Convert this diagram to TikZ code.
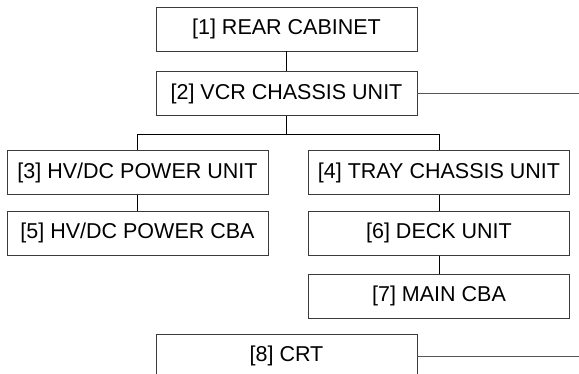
\documentclass[tikz,border=0pt]{standalone}
\usepackage{fontspec}
\setmainfont{Liberation Sans}
\usetikzlibrary{positioning}
\definecolor{boxgray}{HTML}{3A3A3A}
\definecolor{linkgray}{HTML}{555555}
\tikzset{
  partbox/.style={
    draw=boxgray,
    line width=0.9pt,
    minimum width=261pt,
    minimum height=44pt,
    inner sep=0pt,
    font=\fontsize{21.5}{24}\selectfont
  },
  linkline/.style={
    draw=black,
    line width=0.8pt
  },
  sideline/.style={
    draw=linkgray,
    line width=0.9pt
  }
}

\begin{document}
\begin{tikzpicture}[x=1pt, y=-1pt, node distance=20pt]
    \useasboundingbox (0,0) rectangle (579,374);
    \coordinate (rightedge) at (579,0);

    \node[partbox] (cabinet) at (286.5,29) {[1] REAR CABINET};
    \node[partbox, below=of cabinet] (vcr) {[2] VCR CHASSIS UNIT};

    \node[partbox] (hvunit) at (137.5,172.5) {[3] HV/DC POWER UNIT};
    \node[partbox] (tray) at (439,172.5) {[4] TRAY CHASSIS UNIT};
    \node[partbox, below=16pt of hvunit] (hvcba) {[5] HV/DC POWER CBA};
    \node[partbox, below=16pt of tray] (deck) {[6] DECK UNIT};
    \node[partbox, below=18pt of deck] (maincba) {[7] MAIN CBA};

    \node[partbox] (crt) at (286.5,356) {[8] CRT};

    \draw[linkline] (cabinet) -- (vcr);
    \draw[linkline] (vcr.south) -- ++(0,18) -| (hvunit.north);
    \draw[linkline] (vcr.south) -- ++(0,18) -| (tray.north);
    \draw[linkline] (hvunit) -- (hvcba);
    \draw[linkline] (tray) -- (deck);
    \draw[linkline] (deck) -- (maincba);
    \draw[sideline] (vcr.east) -- (vcr.east -| rightedge);
    \draw[sideline] (crt.east) -- (crt.east -| rightedge);
\end{tikzpicture}
\end{document}
